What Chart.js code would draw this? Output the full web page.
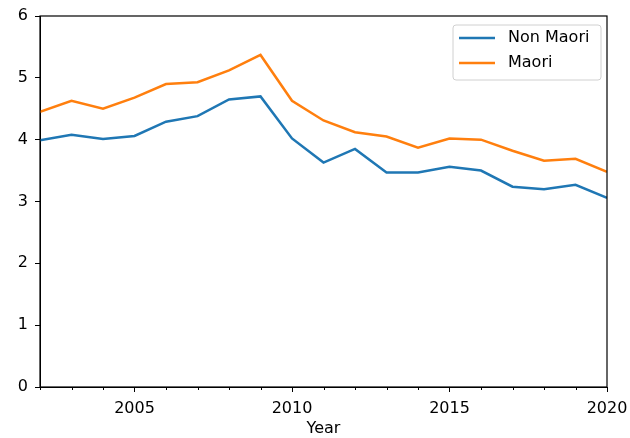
<!DOCTYPE html>
<html>
<head>
<meta charset="utf-8">
<script src="https://cdn.jsdelivr.net/npm/chart.js@4/dist/chart.umd.min.js"></script>
<style>
  html, body { margin: 0; padding: 0; background: #fff; }
  #wrap { width: 630px; height: 438px; position: relative; }
</style>
</head>
<body>
<div id="wrap"><canvas id="chart"></canvas></div>
<script>
// values
const years = [2002, 2003, 2004, 2005, 2006, 2007, 2008, 2009, 2010, 2011,
               2012, 2013, 2014, 2015, 2016, 2017, 2018, 2019, 2020];
const nonMaori = [3.99, 4.08, 4.01, 4.06, 4.29, 4.38, 4.65, 4.70, 4.02, 3.63,
                  3.85, 3.47, 3.47, 3.56, 3.50, 3.24, 3.20, 3.27, 3.06];
const maori = [4.45, 4.63, 4.50, 4.68, 4.90, 4.93, 5.12, 5.37, 4.63, 4.31,
               4.12, 4.05, 3.87, 4.02, 4.00, 3.82, 3.66, 3.69, 3.48];
const xMajorTicks = [2005, 2010, 2015, 2020];
const yTicks = [0, 1, 2, 3, 4, 5, 6];

const FONT = { family: '"DejaVu Sans", sans-serif', size: 16 };

// box round the plot, minor x ticks, and the legend inside the plot
const framePlugin = {
    id: 'frame',
    afterDraw(chart) {
        const { ctx, chartArea: a, scales } = chart;
        ctx.save();
        ctx.strokeStyle = '#000';
        ctx.lineWidth = 1.2;
        ctx.strokeRect(a.left, a.top, a.right - a.left, a.bottom - a.top);

        // minor ticks
        ctx.lineWidth = 1;
        years.forEach(y => {
            if (xMajorTicks.includes(y)) return;
            const px = Math.round(scales.x.getPixelForValue(y)) + 0.5;
            ctx.beginPath();
            ctx.moveTo(px, a.bottom);
            ctx.lineTo(px, a.bottom + 3);
            ctx.stroke();
        });

        // legend
        const bx = 453, by = 25, bw = 148, bh = 55;
        ctx.fillStyle = 'rgba(255,255,255,0.8)';
        ctx.strokeStyle = '#d0d0d0';
        ctx.beginPath();
        ctx.roundRect(bx, by, bw, bh, 3);
        ctx.fill();
        ctx.stroke();
        ctx.font = '16px "DejaVu Sans", sans-serif';
        ctx.textBaseline = 'middle';
        chart.data.datasets.forEach((ds, i) => {
            const ly = by + 13 + i * 25;
            ctx.strokeStyle = ds.borderColor;
            ctx.lineWidth = 2.5;
            ctx.beginPath();
            ctx.moveTo(bx + 6, ly);
            ctx.lineTo(bx + 42, ly);
            ctx.stroke();
            ctx.fillStyle = '#000';
            ctx.fillText(ds.label, bx + 55, ly);
        });
        ctx.restore();
    }
};

new Chart(document.getElementById('chart').getContext('2d'), {
    type: 'line',
    data: {
        datasets: [
            {
                label: 'Non Maori',
                data: years.map((y, i) => ({ x: y, y: nonMaori[i] })),
                borderColor: '#1f77b4',
                borderWidth: 2.5,
                pointRadius: 0,
                tension: 0
            },
            {
                label: 'Maori',
                data: years.map((y, i) => ({ x: y, y: maori[i] })),
                borderColor: '#ff7f0e',
                borderWidth: 2.5,
                pointRadius: 0,
                tension: 0
            }
        ]
    },
    options: {
        responsive: true,
        maintainAspectRatio: false,
        animation: false,
        layout: { padding: { top: 16, right: 23, left: 0, bottom: 0 } },
        plugins: {
            legend: { display: false },
            tooltip: { enabled: false }
        },
        scales: {
            x: {
                type: 'linear',
                min: years[0],
                max: years[years.length - 1],
                afterBuildTicks: s => { s.ticks = xMajorTicks.map(v => ({ value: v })); },
                afterFit: s => { s.height = 51; s.paddingLeft = 0; s.paddingRight = 0; },
                grid: { drawOnChartArea: false, color: '#000', tickLength: 5 },
                border: { color: '#000' },
                ticks: {
                    color: '#000',
                    font: FONT,
                    padding: 7,
                    maxRotation: 0,
                    autoSkip: false,
                    callback: v => String(v)
                },
                title: { display: true, text: 'Year', color: '#000', font: FONT, padding: { top: 0, bottom: 0 } }
            },
            y: {
                min: 0,
                max: 6,
                afterBuildTicks: s => { s.ticks = yTicks.map(v => ({ value: v })); },
                afterFit: s => { s.width = 40; s.paddingTop = 0; s.paddingBottom = 0; },
                grid: { drawOnChartArea: false, color: '#000', tickLength: 5 },
                border: { color: '#000' },
                ticks: { color: '#000', font: FONT, padding: 7 }
            }
        }
    },
    plugins: [framePlugin]
});
</script>
</body>
</html>
